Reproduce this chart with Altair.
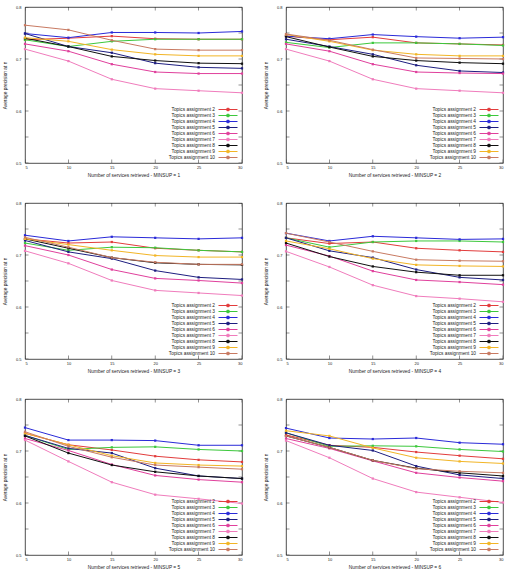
import altair as alt
import pandas as pd

# Number of services retrieved (x positions)
n_retrieved = [5, 10, 15, 20, 25, 30]
precision_ticks = [0.5, 0.55, 0.6, 0.65, 0.7, 0.75, 0.8]

series = [f"Topics assignment {k}" for k in range(2, 11)]
series_colors = ["#e23c3c", "#3cc83c", "#2a2ad8", "#1e1e80", "#e0409c",
                 "#f07cbc", "#101010", "#f2b526", "#c87a62"]

# Average precision at n, one row per topics assignment (2..10)
minsup_1 = [
    [0.737, 0.740, 0.744, 0.739, 0.738, 0.738],
    [0.737, 0.724, 0.734, 0.738, 0.738, 0.738],
    [0.749, 0.741, 0.751, 0.751, 0.750, 0.753],
    [0.749, 0.724, 0.712, 0.692, 0.684, 0.682],
    [0.729, 0.715, 0.690, 0.675, 0.672, 0.672],
    [0.719, 0.696, 0.661, 0.643, 0.639, 0.635],
    [0.740, 0.724, 0.705, 0.697, 0.692, 0.691],
    [0.741, 0.734, 0.718, 0.709, 0.706, 0.706],
    [0.765, 0.756, 0.736, 0.719, 0.717, 0.717],
]
minsup_2 = [
    [0.744, 0.737, 0.742, 0.731, 0.729, 0.727],
    [0.732, 0.722, 0.731, 0.731, 0.729, 0.726],
    [0.744, 0.739, 0.747, 0.743, 0.740, 0.742],
    [0.738, 0.724, 0.709, 0.688, 0.677, 0.674],
    [0.729, 0.715, 0.690, 0.675, 0.673, 0.672],
    [0.719, 0.696, 0.661, 0.643, 0.639, 0.635],
    [0.743, 0.723, 0.705, 0.697, 0.693, 0.691],
    [0.747, 0.734, 0.717, 0.709, 0.706, 0.706],
    [0.748, 0.736, 0.718, 0.702, 0.701, 0.700],
]
minsup_3 = [
    [0.731, 0.723, 0.725, 0.713, 0.709, 0.706],
    [0.723, 0.709, 0.715, 0.714, 0.709, 0.706],
    [0.738, 0.727, 0.735, 0.733, 0.731, 0.733],
    [0.728, 0.706, 0.693, 0.670, 0.657, 0.653],
    [0.718, 0.700, 0.672, 0.655, 0.651, 0.646],
    [0.708, 0.684, 0.651, 0.632, 0.627, 0.622],
    [0.731, 0.713, 0.695, 0.685, 0.682, 0.681],
    [0.731, 0.720, 0.709, 0.699, 0.696, 0.696],
    [0.734, 0.715, 0.695, 0.686, 0.682, 0.682],
]
minsup_4 = [
    [0.733, 0.722, 0.725, 0.713, 0.709, 0.706],
    [0.733, 0.715, 0.725, 0.727, 0.727, 0.725],
    [0.742, 0.727, 0.736, 0.733, 0.730, 0.731],
    [0.733, 0.708, 0.695, 0.672, 0.657, 0.652],
    [0.719, 0.698, 0.669, 0.652, 0.648, 0.643],
    [0.707, 0.677, 0.642, 0.621, 0.616, 0.610],
    [0.723, 0.697, 0.678, 0.667, 0.661, 0.661],
    [0.727, 0.712, 0.693, 0.681, 0.679, 0.678],
    [0.742, 0.725, 0.707, 0.691, 0.689, 0.688],
]
minsup_5 = [
    [0.734, 0.712, 0.702, 0.690, 0.683, 0.679],
    [0.730, 0.703, 0.707, 0.708, 0.703, 0.700],
    [0.745, 0.721, 0.721, 0.720, 0.711, 0.711],
    [0.730, 0.705, 0.696, 0.667, 0.652, 0.647],
    [0.724, 0.701, 0.674, 0.653, 0.645, 0.640],
    [0.721, 0.680, 0.640, 0.616, 0.608, 0.599],
    [0.729, 0.696, 0.673, 0.660, 0.652, 0.647],
    [0.734, 0.712, 0.691, 0.677, 0.673, 0.671],
    [0.737, 0.709, 0.688, 0.673, 0.669, 0.665],
]
minsup_6 = [
    [0.731, 0.711, 0.707, 0.698, 0.691, 0.685],
    [0.735, 0.709, 0.710, 0.709, 0.703, 0.699],
    [0.744, 0.725, 0.723, 0.725, 0.716, 0.713],
    [0.735, 0.711, 0.701, 0.671, 0.654, 0.647],
    [0.724, 0.705, 0.681, 0.658, 0.649, 0.642],
    [0.720, 0.687, 0.647, 0.621, 0.611, 0.601],
    [0.729, 0.707, 0.682, 0.667, 0.658, 0.652],
    [0.739, 0.729, 0.706, 0.687, 0.680, 0.676],
    [0.729, 0.707, 0.682, 0.666, 0.661, 0.658],
]

FONT = "Liberation Sans"
W, H = 217, 156

# Legend sample drawn to the right of its (tiny) nominal symbol box so the
# label sits on the left: a short line with a small square in the middle.
# Units are half the symbol width (symbol size 16 -> 2 px per unit).
LEGEND_SYMBOL = "M3,0H12.5M7.2,-0.6H8.3V0.6H7.2Z"


def panel(minsup, values):
    rows = [
        {"series": s, "n": n, "p": v}
        for s, vals in zip(series, values)
        for n, v in zip(n_retrieved, vals)
    ]
    df = pd.DataFrame(rows)

    x = alt.X(
        "n:Q",
        scale=alt.Scale(domain=[5, 30], nice=False, zero=False),
        axis=alt.Axis(
            values=n_retrieved, grid=False, ticks=False, tickSize=0, domain=False,
            labelFontSize=4, labelPadding=2.5, labelFont=FONT, labelColor="#222",
            labelOverlap=False,
            title=f"Number of services retrieved - MINSUP = {minsup}",
            titleFont=FONT, titleFontSize=4.8, titleFontWeight="normal",
            titleColor="#222", titlePadding=2.8,
        ),
    )
    y = alt.Y(
        "p:Q",
        scale=alt.Scale(domain=[0.5, 0.8], nice=False, zero=False),
        axis=alt.Axis(
            values=precision_ticks, format=".2~f", grid=False, ticks=False,
            tickSize=0, domain=False, labelOverlap=False,
            labelFontSize=4, labelPadding=4, labelFont=FONT, labelColor="#222",
            title="Average precision at n",
            titleFont=FONT, titleFontSize=4.8, titleFontWeight="normal",
            titleColor="#222", titlePadding=8,
        ),
    )
    color = alt.Color(
        "series:N",
        scale=alt.Scale(domain=series, range=series_colors),
        legend=alt.Legend(
            title=None, orient="bottom-right", offset=2, padding=0,
            labelFont=FONT, labelFontSize=4.8, labelColor="#222",
            labelAlign="right", labelOffset=0, labelLimit=200,
            symbolType=LEGEND_SYMBOL, symbolSize=16, symbolStrokeWidth=1,
            rowPadding=alt.ExprRef("-3.4"),
        ),
    )

    base = alt.Chart(df)
    lines = base.mark_line(strokeWidth=1).encode(x=x, y=y, color=color)
    marks = base.mark_square(size=5, opacity=1).encode(x=x, y=y, color=color)

    # short inward ticks on all four sides of the frame
    xt = pd.DataFrame([{"n": n, "p": e} for n in n_retrieved for e in (0.5, 0.8)])
    yt = pd.DataFrame([{"n": e, "p": p} for p in precision_ticks for e in (5, 30)])
    x_ticks = alt.Chart(xt).mark_tick(
        orient="vertical", size=7, thickness=0.7, color="#222", clip=True
    ).encode(x="n:Q", y="p:Q")
    y_ticks = alt.Chart(yt).mark_tick(
        orient="horizontal", size=7, thickness=0.7, color="#222", clip=True
    ).encode(x="n:Q", y="p:Q")

    return alt.layer(x_ticks, y_ticks, lines, marks).properties(width=W, height=H)


panels = [panel(i + 1, v) for i, v in enumerate(
    [minsup_1, minsup_2, minsup_3, minsup_4, minsup_5, minsup_6])]

rows = [
    alt.hconcat(panels[i], panels[i + 1], spacing=44, bounds="flush")
    .resolve_scale(color="independent")
    for i in (0, 2, 4)
]

chart = (
    alt.vconcat(*rows, spacing=22)
    .resolve_scale(color="independent")
    .properties(padding={"left": 2, "top": 4, "right": 4, "bottom": 2}, background="white")
    .configure_view(stroke="#222", strokeWidth=0.8)
)

chart.save("out.html", embed_options={"renderer": "svg", "actions": False})
